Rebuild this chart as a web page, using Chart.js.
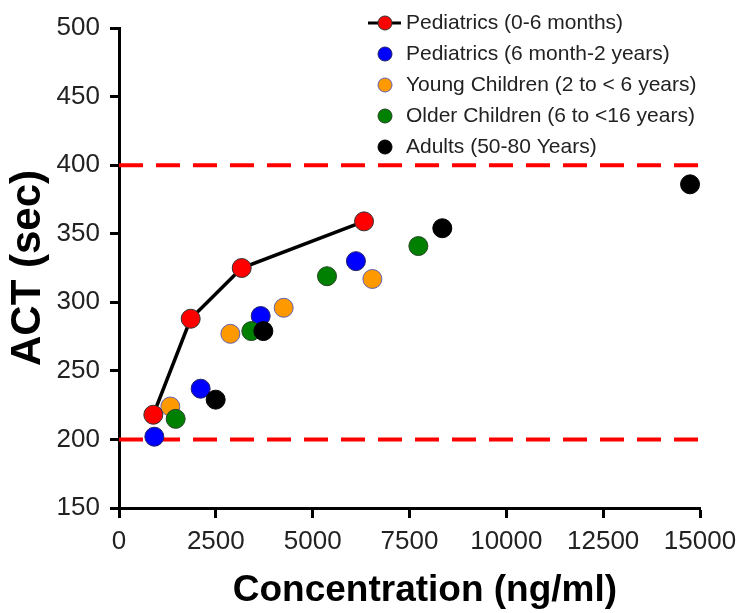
<!DOCTYPE html>
<html>
<head>
<meta charset="utf-8">
<script src="https://cdn.jsdelivr.net/npm/chart.js@4"></script>
<style>
  body { margin: 0; background: #fff; }
  #wrap { width: 740px; height: 613px; position: relative; }
</style>
</head>
<body>
<div id="wrap"><canvas id="act"></canvas></div>
<script>
// ACT vs concentration
var groupLabels = [
    'Pediatrics (0-6 months)',
    'Pediatrics (6 month-2 years)',
    'Young Children (2 to < 6 years)',
    'Older Children (6 to <16 years)',
    'Adults (50-80 Years)'
];
var peds06Conc = [886, 1851, 3168, 6326];
var peds06Act = [218, 288, 325, 359];
var peds6m2yConc = [912, 2108, 3658, 6117];
var peds6m2yAct = [202, 237, 290, 330];
var youngConc = [1325, 2875, 4252, 6541];
var youngAct = [224, 277, 296, 317];
var olderConc = [1463, 3416, 5370, 7729];
var olderAct = [215, 279, 319, 341];
var adultConc = [2496, 3727, 8347, 14743];
var adultAct = [229, 279, 354, 386];
var limitRange = [0, 15000];
var limits = [200, 400];

var FONT = "'Liberation Sans', Arial, sans-serif";

function pts(xs, ys) {
    return xs.map(function (x, i) { return { x: x, y: ys[i] }; });
}

function group(label, xs, ys, fill, edge, order) {
    return {
        type: 'scatter',
        label: label,
        data: pts(xs, ys),
        pointRadius: 9.5,
        pointHoverRadius: 9.5,
        pointBackgroundColor: fill,
        pointBorderColor: edge,
        pointBorderWidth: 1,
        order: order
    };
}

var datasets = [];
// red dashed limits
limits.forEach(function (v) {
    datasets.push({
        type: 'line',
        label: '',
        isLimit: true,
        data: limitRange.map(function (x) { return { x: x, y: v }; }),
        borderColor: '#ff0000',
        borderWidth: 4,
        borderDash: [24, 13],
        pointRadius: 0,
        order: 10
    });
});

var peds06 = group(groupLabels[0], peds06Conc, peds06Act, '#ff0000', '#333333', 0);
peds06.showLine = true;
peds06.borderColor = '#000000';
peds06.borderWidth = 3.5;
datasets.push(peds06);
datasets.push(group(groupLabels[1], peds6m2yConc, peds6m2yAct, '#0000ff', '#222266', 4));
datasets.push(group(groupLabels[2], youngConc, youngAct, '#ff9900', '#6060b0', 3));
datasets.push(group(groupLabels[3], olderConc, olderAct, '#008000', '#224422', 2));
datasets.push(group(groupLabels[4], adultConc, adultAct, '#000000', '#000000', 1));

// legend drawn inside the plot, top right
var insideLegend = {
    id: 'insideLegend',
    afterDraw: function (chart) {
        var ctx = chart.ctx;
        var x0 = 385, y0 = 23, step = 31;
        var row = 0;
        ctx.save();
        ctx.font = '21px ' + FONT;
        ctx.textBaseline = 'middle';
        ctx.textAlign = 'left';
        chart.data.datasets.forEach(function (ds) {
            if (ds.isLimit) return;
            var y = y0 + row * step;
            if (ds.showLine) {
                ctx.strokeStyle = ds.borderColor;
                ctx.lineWidth = 3;
                ctx.beginPath();
                ctx.moveTo(x0 - 17, y);
                ctx.lineTo(x0 + 16, y);
                ctx.stroke();
            }
            ctx.beginPath();
            ctx.arc(x0, y, 7, 0, Math.PI * 2);
            ctx.fillStyle = ds.pointBackgroundColor;
            ctx.fill();
            ctx.lineWidth = 1;
            ctx.strokeStyle = ds.pointBorderColor;
            ctx.stroke();
            ctx.fillStyle = '#222';
            ctx.fillText(ds.label, x0 + 21, y);
            row++;
        });
        ctx.restore();
    }
};

new Chart(document.getElementById('act').getContext('2d'), {
    data: { datasets: datasets },
    plugins: [insideLegend],
    options: {
        responsive: true,
        maintainAspectRatio: false,
        animation: false,
        layout: { padding: { top: 28, right: 40, left: 0, bottom: 0 } },
        plugins: {
            legend: { display: false },
            tooltip: { enabled: false }
        },
        scales: {
            x: {
                type: 'linear',
                min: 0,
                max: 15000,
                afterFit: function (scale) {
                    scale.height = 105;
                    scale.paddingLeft = 0;
                    scale.paddingRight = 0;
                },
                ticks: {
                    stepSize: 2500,
                    color: '#222',
                    font: { family: FONT, size: 26 },
                    padding: 8,
                    maxRotation: 0,
                    callback: function (v) { return String(v); }
                },
                grid: {
                    drawOnChartArea: false,
                    drawTicks: true,
                    tickLength: 10,
                    tickWidth: 3,
                    tickColor: '#000'
                },
                border: { display: true, color: '#000', width: 3 },
                title: {
                    display: true,
                    text: '   Concentration (ng/ml)',
                    color: '#000',
                    font: { family: FONT, size: 37, weight: 'bold' },
                    padding: { top: 0, bottom: 0 }
                }
            },
            y: {
                type: 'linear',
                min: 150,
                max: 500,
                afterFit: function (scale) {
                    scale.width = 119;
                    scale.paddingTop = 0;
                    scale.paddingBottom = 0;
                },
                ticks: {
                    stepSize: 50,
                    color: '#222',
                    font: { family: FONT, size: 26 },
                    padding: 10
                },
                grid: {
                    drawOnChartArea: false,
                    drawTicks: true,
                    tickLength: 9,
                    tickWidth: 3,
                    tickColor: '#000'
                },
                border: { display: true, color: '#000', width: 3 },
                title: {
                    display: true,
                    text: 'ACT (sec)',
                    color: '#000',
                    font: { family: FONT, size: 42, weight: 'bold' },
                    padding: { top: 3, bottom: 0 }
                }
            }
        }
    }
});
</script>
</body>
</html>
